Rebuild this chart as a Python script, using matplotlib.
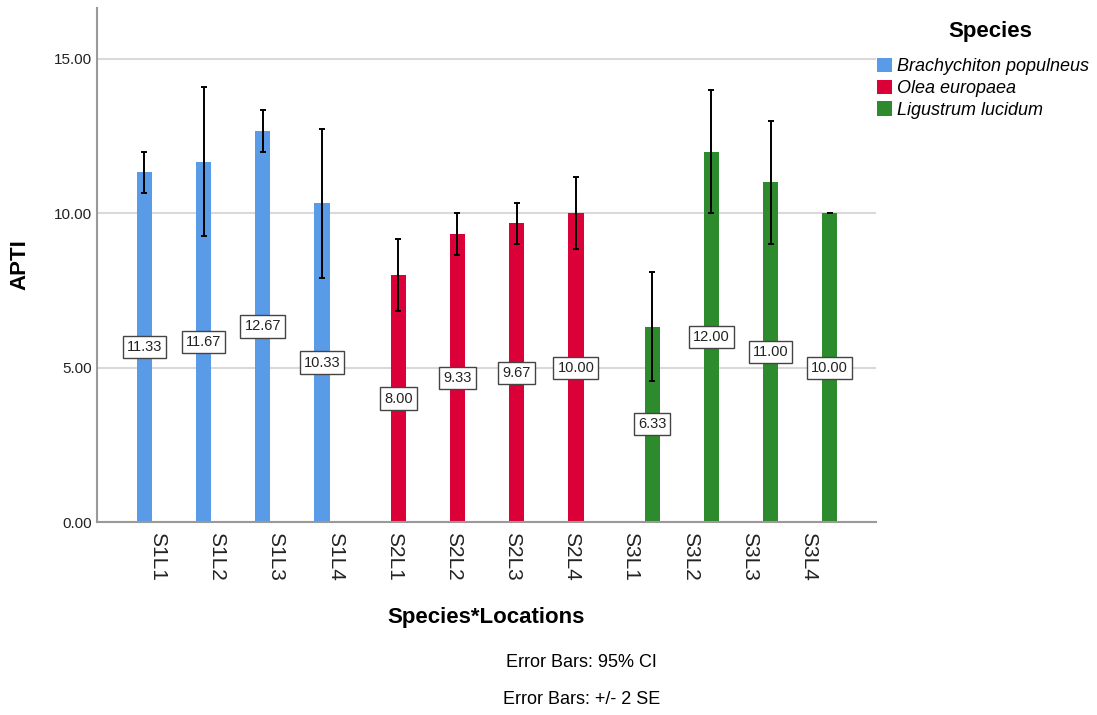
import numpy as np
import matplotlib.pyplot as plt
import matplotlib.transforms as mtransforms
from matplotlib.patches import Patch

plt.rcParams['font.family'] = ['Liberation Sans', 'DejaVu Sans']

# APTI means by species*location, with error bar half-widths (+/- 2 SE)
locations = ["S1L1", "S1L2", "S1L3", "S1L4",
             "S2L1", "S2L2", "S2L3", "S2L4",
             "S3L1", "S3L2", "S3L3", "S3L4"]
species = ["Brachychiton populneus", "Olea europaea", "Ligustrum lucidum"]
species_idx = [0, 0, 0, 0, 1, 1, 1, 1, 2, 2, 2, 2]
apti = [11.33, 11.67, 12.67, 10.33,
        8.00, 9.33, 9.67, 10.00,
        6.33, 12.00, 11.00, 10.00]
err = [0.67, 2.41, 0.67, 2.41,
       1.16, 0.67, 0.67, 1.16,
       1.76, 2.00, 2.00, 0.00]

colors = ["#5a9be8", "#dc0038", "#2d8a2d"]

fig = plt.figure(figsize=(10.97, 7.15), dpi=100)
ax = fig.add_axes([0.0884, 0.2699, 0.7101, 0.7189])

# clustered layout: each category has 3 slots, only the species slot is filled
offsets = [-0.29, 0.0, 0.29]
x = np.arange(len(locations))
xb = np.array([xi + offsets[s] for xi, s in zip(x, species_idx)])
bar_cols = [colors[s] for s in species_idx]

ax.set_axisbelow(True)
ax.yaxis.grid(True, color="#d9d9d9", linewidth=1.5)
ax.bar(xb, apti, width=0.26, color=bar_cols, zorder=2)
ax.errorbar(xb, apti, yerr=err, fmt="none", ecolor="black",
            elinewidth=1.4, capsize=2, capthick=1.4, zorder=3)

for xi, v in zip(xb, apti):
    ax.text(xi, v / 2, f"{v:.2f}", ha="center", va="center", fontsize=10.5,
            zorder=4, color="#222222",
            bbox=dict(boxstyle="square,pad=0.28", fc="white", ec="#444444", lw=1))

ax.set_xlim(-1.09, 12.07)
ax.set_ylim(0, 16.65)
ax.set_yticks([0, 5, 10, 15])
ax.set_yticklabels([f"{t:.2f}" for t in [0, 5, 10, 15]], fontsize=11)
ax.set_xticks(x)
ax.set_xticklabels(locations, rotation=270, fontsize=15, ha="center", va="top")
ax.tick_params(axis="both", length=0, colors="#222222")
ax.tick_params(axis="x", pad=7)
shift = mtransforms.ScaledTranslation(-4 / 100, 0, fig.dpi_scale_trans)
for lab in ax.get_xticklabels():
    lab.set_transform(lab.get_transform() + shift)

for side in ["top", "right"]:
    ax.spines[side].set_visible(False)
for side in ["left", "bottom"]:
    ax.spines[side].set_color("#999999")
    ax.spines[side].set_linewidth(1.5)

ax.set_ylabel("APTI", fontsize=16, fontweight="bold")
ax.yaxis.set_label_coords(-0.099, 0.5)
ax.yaxis.label.set_va("center")
ax.set_xlabel("Species*Locations", fontsize=16, fontweight="bold")
ax.xaxis.set_label_coords(0.5, -0.185)
ax.xaxis.label.set_va("center")

# legend
fig.text(0.9025, 0.9566, "Species", ha="center", va="center",
         fontsize=16, fontweight="bold")
handles = [Patch(facecolor=c, edgecolor="none") for c in colors]
leg = fig.legend(handles, species, loc="upper left", bbox_to_anchor=(0.799, 0.919),
                 frameon=False, fontsize=13, borderpad=0,
                 handlelength=0.85, handleheight=0.85, handletextpad=0.3,
                 labelspacing=0.23, borderaxespad=0)
for t in leg.get_texts():
    t.set_fontstyle("italic")

fig.text(0.53, 0.074, "Error Bars: 95% CI", ha="center", va="center", fontsize=13)
fig.text(0.53, 0.021, "Error Bars: +/- 2 SE", ha="center", va="center", fontsize=13)

fig.savefig("out.png", dpi=100)
